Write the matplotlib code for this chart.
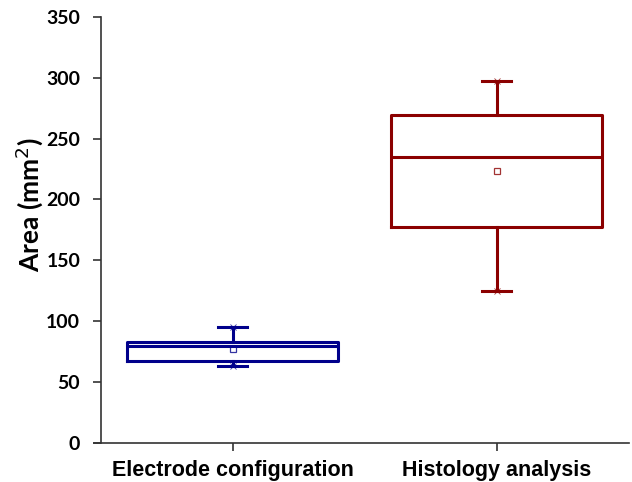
import matplotlib
matplotlib.use('Agg')
import matplotlib.pyplot as plt

# data
groups = ['Electrode configuration', 'Histology analysis']
whislo = [63, 125]
q1 = [67, 177]
med = [80, 235]
q3 = [83, 269]
whishi = [95, 297]
means = [77, 223]
colors = ['#00008B', '#8B0000']

fig = plt.figure(figsize=(6.32, 4.82), dpi=100)
ax = fig.add_axes([94 / 632, 0.081, 535 / 632, 0.884])

stats = []
for i in range(len(groups)):
    stats.append(dict(whislo=whislo[i], q1=q1[i], med=med[i], q3=q3[i],
                      whishi=whishi[i], mean=means[i], fliers=[]))

for i, s in enumerate(stats):
    c = colors[i]
    ax.bxp([s], positions=[i + 1], widths=0.8, showmeans=False, showfliers=False,
           boxprops=dict(color=c, linewidth=2.2),
           medianprops=dict(color=c, linewidth=2.2),
           whiskerprops=dict(color=c, linewidth=2.2),
           capprops=dict(color=c, linewidth=2.2),
           capwidths=0.11)
    # mean square and small x marks at min / max
    ax.plot(i + 1, means[i], 's', markersize=4.5, markerfacecolor='white',
            markeredgecolor=c, markeredgewidth=0.9, alpha=0.8)
    ax.plot([i + 1, i + 1], [whislo[i], whishi[i]], 'x', color=c,
            markersize=4, markeredgewidth=0.6, alpha=0.8)

ax.set_xlim(0.4734, 2.502)
ax.set_ylim(0, 350)
ax.spines['left'].set_position(('data', 0.5))
ax.set_yticks(range(0, 351, 50))
ax.set_xticks([1, 2])
ax.set_xticklabels(groups, fontsize=15.5, fontweight='bold', family='Liberation Sans')
for lab in ax.get_yticklabels():
    lab.set_fontsize(14)
    lab.set_fontweight('bold')
    lab.set_family('Lato')
ax.set_ylabel('Area (mm$^2$)', fontsize=19, fontweight='bold', family='Lato')
ax.yaxis.set_label_coords(-0.092, 0.56)

ax.spines['top'].set_visible(False)
ax.spines['right'].set_visible(False)
for sp in ['left', 'bottom']:
    ax.spines[sp].set_color('#333333')
    ax.spines[sp].set_linewidth(1.2)
ax.tick_params(direction='out', length=6, width=1.2, color='#333333')
ax.tick_params(axis='x', pad=6)
ax.tick_params(axis='y', pad=9)

fig.savefig('out.png', dpi=100)
